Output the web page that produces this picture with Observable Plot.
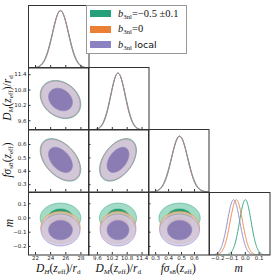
<!DOCTYPE html>
<html><head><meta charset="utf-8">
<script src="https://cdn.jsdelivr.net/npm/d3@7"></script>
<script src="https://cdn.jsdelivr.net/npm/@observablehq/plot@0.6"></script>
<style>
body{margin:0;background:#fff;}
#chart{position:relative;width:273px;height:276px;overflow:hidden;background:#fff;}
.panel{position:absolute;}
.lab{position:absolute;font-family:"Liberation Serif",serif;font-size:11.5px;white-space:nowrap;color:#111;line-height:1;}
.lab i{font-style:italic;}
.lab sub{font-size:0.62em;vertical-align:-0.25em;line-height:0;}
.ylab{transform:translate(-50%,-50%) rotate(-90deg);}
.xlab{transform:translate(-50%,-50%);}
#legend{position:absolute;left:86px;top:5px;width:99px;height:47px;border:1px solid #999;background:#fff;box-sizing:content-box;}
.sw{position:absolute;left:3px;width:21px;height:7px;}
.lt{position:absolute;left:31px;font-family:"Liberation Serif",serif;font-size:10.5px;white-space:nowrap;color:#111;line-height:1;transform:translateY(-50%);}
.lt sub{font-size:0.65em;vertical-align:-0.3em;line-height:0;}
.sans{font-family:"DejaVu Sans",sans-serif;font-size:9.5px;}
</style></head><body><div id="chart"></div>
<script>
// ---- data ----
const seriesLabels = ["b3nl = −0.5 ± 0.1", "b3nl = 0", "b3nl local"];
const seriesColors = ["#25a07a", "#ea8036", "#8b82c2"];
const lightFill = ["#a3dbc6", "#f3c7a6", "#cdc6e0"];
const darkFill = ["#20a076", "#e8945a", "#7b6fad"];

const paramNames = ["DH", "DM", "fs8", "m"];
const domainDH = [21.07, 29.07];
const domainDM = [9.24, 11.68];
const domainFS8 = [0.245, 0.712];
const domainM = [-0.26, 0.179];

const tickDH = [22, 24, 26, 28];
const tickDM = [9.6, 10.2, 10.8, 11.4];
const tickFS8 = [0.3, 0.4, 0.5, 0.6];
const tickM = [-0.2, -0.1, 0.0, 0.1];

// posterior summaries per series (green, orange, purple)
const meanDH = [25.3, 25.3, 25.3];
const sigmaDH = [1.08, 1.05, 1.04];
const meanDM = [10.43, 10.43, 10.43];
const sigmaDM = [0.30, 0.29, 0.29];
const meanFS8 = [0.485, 0.485, 0.485];
const sigmaFS8 = [0.064, 0.062, 0.062];
const meanM = [0.0, -0.065, -0.085];
const sigmaM = [0.042, 0.045, 0.045];

// correlations between parameter pairs (row param, col param)
const corrDM_DH = [-0.25, -0.25, -0.25];
const corrFS8_DH = [-0.45, -0.45, -0.45];
const corrFS8_DM = [0.45, 0.45, 0.45];
const corrM_DH = [0.0, 0.0, 0.0];
const corrM_DM = [0.0, 0.0, 0.0];
const corrM_FS8 = [0.0, 0.0, 0.0];

// contour levels (95%, 68% for 2 dof)
const chi2Levels = [6.18, 2.30];

// ---- build ----
const P = [
  {domain: domainDH, ticks: tickDH, mean: meanDH, sigma: sigmaDH, fmt: d3.format("d")},
  {domain: domainDM, ticks: tickDM, mean: meanDM, sigma: sigmaDM, fmt: d3.format(".1f")},
  {domain: domainFS8, ticks: tickFS8, mean: meanFS8, sigma: sigmaFS8, fmt: d3.format(".1f")},
  {domain: domainM, ticks: tickM, mean: meanM, sigma: sigmaM, fmt: d3.format(".1f")}
];
const corrTable = {"1,0": corrDM_DH, "2,0": corrFS8_DH, "2,1": corrFS8_DM, "3,0": corrM_DH, "3,1": corrM_DM, "3,2": corrM_FS8};
const diagTop = [1.09, 1.10, 1.12, 1.13];

const chart = document.getElementById("chart");
const colX = [28, 88, 148, 208.5];
const rowY = [5, 67, 129, 191.5];
const W = 60.5, H = 62.5;
const axisColor = "#333";

function gauss1d(p, k) {
  const [a, b] = p.domain;
  return d3.range(0, 241).map(t => {
    const x = a + (b - a) * t / 240;
    return {x, y: Math.exp(-0.5 * ((x - p.mean[k]) / p.sigma[k]) ** 2)};
  });
}
function ellipse(px, py, r, k, lev) {
  const s = Math.sqrt(lev);
  return d3.range(0, 120).map(t => {
    const a = 2 * Math.PI * t / 120;
    return {
      x: px.mean[k] + px.sigma[k] * s * Math.cos(a),
      y: py.mean[k] + py.sigma[k] * s * (r * Math.cos(a) + Math.sqrt(1 - r * r) * Math.sin(a))
    };
  });
}

for (let i = 0; i < 4; i++) {
  for (let j = 0; j <= i; j++) {
    const xp = P[j];
    const marks = [];
    let ydom;
    if (i === j) {
      ydom = [0, diagTop[j]];
      for (let k = 0; k < 3; k++) {
        marks.push(Plot.line(gauss1d(xp, k), {x: "x", y: "y", stroke: seriesColors[k], strokeWidth: 0.9, clip: true}));
      }
    } else {
      const yp = P[i];
      ydom = yp.domain;
      const corr = corrTable[i + "," + j];
      for (let k = 0; k < 3; k++) {
        chi2Levels.forEach((lev, li) => {
          marks.push(Plot.line(ellipse(xp, yp, corr[k], k, lev), {
            x: "x", y: "y", curve: "linear-closed",
            fill: li === 0 ? lightFill[k] : darkFill[k],
            fillOpacity: k === 0 ? 1 : 0.82,
            stroke: seriesColors[k], strokeWidth: 0.5, clip: true
          }));
        });
      }
      marks.push(Plot.axisY({ticks: yp.ticks, tickSize: 2.5, dx: 2.5, fill: "none", label: null, stroke: axisColor}));
      if (j === 0) {
        marks.push(Plot.axisY({ticks: yp.ticks, tickSize: 0, tickPadding: 2, fontSize: 5.5, label: null, tickFormat: yp.fmt, fill: "#222"}));
      }
    }
    marks.push(Plot.axisX({ticks: xp.ticks, tickSize: 2.5, dy: -2.5, fill: "none", label: null, stroke: axisColor}));
    if (i === 3) {
      marks.push(Plot.axisX({ticks: xp.ticks, tickSize: 0, tickPadding: 1.5, fontSize: 5.5, label: null, tickFormat: xp.fmt, fill: "#222"}));
    }
    marks.push(Plot.frame({stroke: axisColor, strokeWidth: 1}));
    const svg = Plot.plot({
      width: W, height: H, margin: 0,
      x: {domain: xp.domain, axis: null},
      y: {domain: ydom, axis: null},
      style: {overflow: "visible", background: "none", fontFamily: "DejaVu Sans, sans-serif"},
      marks
    });
    const div = document.createElement("div");
    div.className = "panel";
    div.style.left = colX[j] + "px";
    div.style.top = rowY[i] + "px";
    div.appendChild(svg);
    chart.appendChild(div);
  }
}

// axis labels
const xLabels = [
  '<i>D</i><sub><i>H</i></sub>(<i>z</i><sub>eff</sub>)/<i>r</i><sub>d</sub>',
  '<i>D</i><sub><i>M</i></sub>(<i>z</i><sub>eff</sub>)/<i>r</i><sub>d</sub>',
  '<i>fσ</i><sub>s8</sub>(<i>z</i><sub>eff</sub>)',
  '<i>m</i>'
];
xLabels.forEach((h, j) => {
  const d = document.createElement("div");
  d.className = "lab xlab";
  d.style.left = (colX[j] + W / 2) + "px";
  d.style.top = "268.5px";
  d.innerHTML = h;
  chart.appendChild(d);
});
[1, 2, 3].forEach(i => {
  const d = document.createElement("div");
  d.className = "lab ylab";
  d.style.left = (i === 3 ? 10 : 8) + "px";
  d.style.top = (rowY[i] + H / 2) + "px";
  d.innerHTML = xLabels[i];
  chart.appendChild(d);
});

// legend
const legend = document.createElement("div");
legend.id = "legend";
const legendText = [
  '<i>b</i><sub>3nl</sub>=−0.5 ±0.1',
  '<i>b</i><sub>3nl</sub>=0',
  '<i>b</i><sub>3nl</sub> <span class="sans">local</span>'
];
const rowCenters = [7.7, 23.2, 38.5];
legendText.forEach((t, k) => {
  const sw = document.createElement("div");
  sw.className = "sw";
  sw.style.top = (rowCenters[k] - 3.5) + "px";
  sw.style.background = seriesColors[k];
  legend.appendChild(sw);
  const tx = document.createElement("div");
  tx.className = "lt";
  tx.style.top = rowCenters[k] + "px";
  tx.innerHTML = t;
  legend.appendChild(tx);
});
chart.appendChild(legend);
</script></body></html>
